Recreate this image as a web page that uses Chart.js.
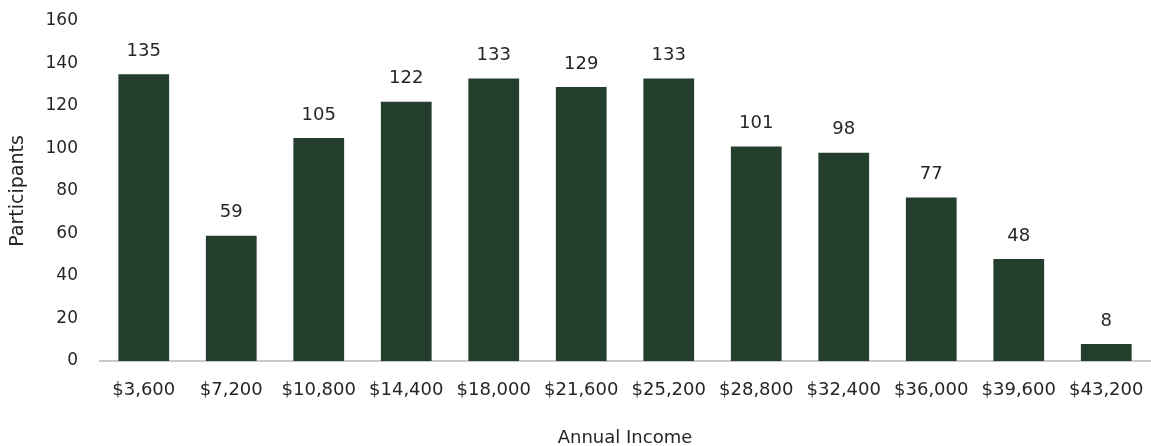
<!DOCTYPE html>
<html>
<head>
<meta charset="utf-8">
<script src="https://cdn.jsdelivr.net/npm/chart.js@4"></script>
<style>
  html, body { margin: 0; padding: 0; background: #fff; }
  #wrap { width: 1151px; height: 446px; }
</style>
</head>
<body>
<div id="wrap"><canvas id="chart" width="1151" height="446"></canvas></div>
<script>
const incomeLabels = ["$3,600","$7,200","$10,800","$14,400","$18,000","$21,600",
  "$25,200","$28,800","$32,400","$36,000","$39,600","$43,200"];
const participants = [135, 59, 105, 122, 133, 129, 133, 101, 98, 77, 48, 8];
const yTicks = [0, 20, 40, 60, 80, 100, 120, 140, 160];

const FONT = '"DejaVu Sans", Arial, sans-serif';

// value labels above each bar
const barLabels = {
    id: 'barLabels',
    afterDatasetsDraw(chart) {
        const c = chart.ctx;
        const meta = chart.getDatasetMeta(0);
        c.save();
        c.font = '18px ' + FONT;
        c.fillStyle = '#262626';
        c.textAlign = 'center';
        c.textBaseline = 'middle';
        meta.data.forEach((bar, i) => {
            c.fillText(participants[i], bar.x, bar.y - 23);
        });
        c.restore();
    }
};

const ctx = document.getElementById('chart').getContext('2d');
const chart = new Chart(ctx, {
    type: "bar",
    data: {
        labels: incomeLabels,
        datasets: [{
            label: "Participants",
            data: participants,
            backgroundColor: "#233e2d",
            categoryPercentage: 0.58,
            barPercentage: 1
        }]
    },
    options: {
        responsive: false,
        animation: false,
        layout: { padding: { top: 21, right: 1, left: 7, bottom: 0 } },
        plugins: {
            legend: { display: false },
            tooltip: { enabled: false }
        },
        scales: {
            x: {
                grid: { display: false, drawTicks: false },
                border: { display: true, color: "#c9c9c9", width: 2 },
                ticks: {
                    color: "#262626",
                    font: { size: 18, family: FONT },
                    padding: 19,
                    maxRotation: 0
                },
                title: {
                    display: true,
                    text: "Annual Income",
                    color: "#262626",
                    font: { size: 18, family: FONT },
                    padding: { top: 0, bottom: -3 }
                },
                afterFit(scale) {
                    scale.height = 85;
                    scale.paddingLeft = 0;
                    scale.paddingRight = 0;
                }
            },
            y: {
                min: 0,
                max: 160,
                afterBuildTicks(axis) { axis.ticks = yTicks.map(v => ({ value: v })); },
                grid: { display: false, drawTicks: false },
                border: { display: false },
                ticks: {
                    color: "#262626",
                    font: { size: 17, family: FONT },
                    padding: 22
                },
                title: {
                    display: true,
                    text: "Participants",
                    color: "#262626",
                    font: { size: 19, family: FONT },
                    padding: { top: 0, bottom: 0 }
                },
                afterFit(scale) {
                    scale.width = 93;
                    scale.paddingTop = 0;
                    scale.paddingBottom = 0;
                }
            }
        }
    },
    plugins: [barLabels]
});
</script>
</body>
</html>
